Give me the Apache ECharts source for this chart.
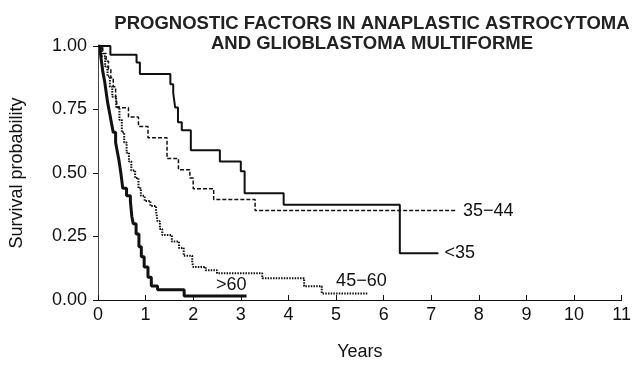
<!DOCTYPE html>
<html>
<head>
<meta charset="utf-8">
<script src="https://cdn.jsdelivr.net/npm/echarts@6/dist/echarts.min.js"></script>
<style>
  html, body { margin: 0; padding: 0; background: #fff; }
  #chart { width: 634px; height: 366px; }
</style>
</head>
<body>
<div id="chart"></div>
<script>
// Kaplan-Meier steps: survival holds from each time until the next
const under35Years = [0, 0.26, 0.81, 0.88, 1.52, 1.58, 1.62, 1.68, 1.76, 1.95, 2.56, 3.0, 3.08, 3.9, 6.34, 7.15];
const under35Surv  = [1.0, 0.966, 0.935, 0.89, 0.849, 0.815, 0.758, 0.70, 0.668, 0.59, 0.545, 0.507, 0.42, 0.375, 0.184, 0.184];

const age3544Years = [0, 0.1, 0.17, 0.22, 0.27, 0.32, 0.37, 0.41, 0.64, 0.85, 1.05, 1.45, 1.69, 1.93, 2.0, 2.43, 3.3, 7.54];
const age3544Surv  = [1.0, 0.97, 0.94, 0.91, 0.875, 0.84, 0.80, 0.757, 0.72, 0.683, 0.639, 0.557, 0.513, 0.48, 0.438, 0.396, 0.352, 0.352];

const age4560Years = [0, 0.08, 0.15, 0.2, 0.25, 0.3, 0.38, 0.45, 0.5, 0.55, 0.6, 0.65, 0.7, 0.78, 0.85, 0.9, 0.98, 1.1, 1.22, 1.25, 1.3, 1.35, 1.55, 1.7, 1.8, 1.98, 2.0, 2.26, 2.5, 3.45, 4.33, 4.7, 5.68];
const age4560Surv  = [1.0, 0.96, 0.92, 0.88, 0.84, 0.80, 0.76, 0.71, 0.66, 0.62, 0.58, 0.545, 0.51, 0.48, 0.44, 0.41, 0.39, 0.37, 0.35, 0.31, 0.28, 0.256, 0.23, 0.205, 0.174, 0.148, 0.13, 0.117, 0.105, 0.086, 0.054, 0.026, 0.026];

const over60Years = [0, 0.05, 0.08, 0.1, 0.14, 0.17, 0.2, 0.24, 0.28, 0.32, 0.37, 0.41, 0.44, 0.48, 0.5, 0.52, 0.6, 0.68, 0.71, 0.74, 0.8, 0.86, 0.91, 0.97, 1.05, 1.12, 1.25, 1.81, 3.12];
const over60Surv  = [1.0, 0.97, 0.93, 0.90, 0.86, 0.82, 0.78, 0.74, 0.70, 0.66, 0.62, 0.58, 0.55, 0.50, 0.47, 0.44, 0.41, 0.39, 0.33, 0.30, 0.26, 0.21, 0.17, 0.13, 0.09, 0.055, 0.04, 0.016, 0.016];

const groupNames = ['<35', '35\u221244', '45\u221260', '>60'];
const yearTicks = [0, 11, 1];       // min, max, interval
const survTicks = [0, 1, 0.25];

const font = '"Liberation Sans", Arial, Helvetica, sans-serif';
const ink = '#111';
const fs = 18;

function pairs(xs, ys) {
  return xs.map((x, i) => [x, ys[i]]);
}

function kmSeries(name, xs, ys, lineStyle, endLabel) {
  return {
    name: name,
    type: 'line',
    step: 'end',
    symbol: 'none',
    data: pairs(xs, ys),
    lineStyle: Object.assign({ color: ink }, lineStyle),
    endLabel: Object.assign({
      show: true,
      formatter: '{a}',
      color: ink,
      fontSize: fs,
      fontFamily: font
    }, endLabel),
    z: 3
  };
}

var myChart = echarts.init(document.getElementById('chart'));
myChart.setOption({
  animation: false,
  title: {
    text: 'PROGNOSTIC FACTORS IN ANAPLASTIC ASTROCYTOMA\nAND GLIOBLASTOMA MULTIFORME',
    left: 367,
    top: 9,
    textAlign: 'center',
    textStyle: { fontFamily: font, fontWeight: 'bold', fontSize: 18.5, lineHeight: 20, color: '#222' }
  },
  grid: { left: 90, right: 4, top: 46, bottom: 55 },
  xAxis: {
    type: 'value',
    min: yearTicks[0], max: yearTicks[1], interval: yearTicks[2],
    name: 'Years',
    nameLocation: 'middle',
    nameGap: 43,
    nameTextStyle: { fontFamily: font, fontSize: fs, color: ink },
    axisLine: { lineStyle: { color: ink, width: 1 } },
    axisTick: { inside: true, length: 5, lineStyle: { color: ink } },
    axisLabel: { fontFamily: font, fontSize: fs, color: ink, margin: 6, showMaxLabel: true },
    splitLine: { show: false }
  },
  yAxis: {
    type: 'value',
    min: survTicks[0], max: survTicks[1], interval: survTicks[2],
    name: 'Survival probability',
    nameLocation: 'middle',
    nameGap: 72,
    nameTextStyle: { fontFamily: font, fontSize: fs, color: ink },
    axisLine: { show: true, lineStyle: { color: '#444', width: 1 } },
    axisTick: { show: true, length: 5, lineStyle: { color: ink } },
    axisLabel: { fontFamily: font, fontSize: fs, color: ink, margin: 11, formatter: v => v.toFixed(2) },
    splitLine: { show: false }
  },
  series: [
    kmSeries(groupNames[0], under35Years, under35Surv, { width: 2 }, { distance: 6 }),
    kmSeries(groupNames[1], age3544Years, age3544Surv, { width: 1.5, type: [4, 2] }, { distance: 6 }),
    kmSeries(groupNames[2], age4560Years, age4560Surv, { width: 2, type: [1.5, 1.2] }, { distance: 0, align: 'center', offset: [-7, -12] }),
    kmSeries(groupNames[3], over60Years, over60Surv, { width: 3 }, { distance: 0, align: 'right', offset: [0, -11] })
  ]
});
</script>
</body>
</html>
